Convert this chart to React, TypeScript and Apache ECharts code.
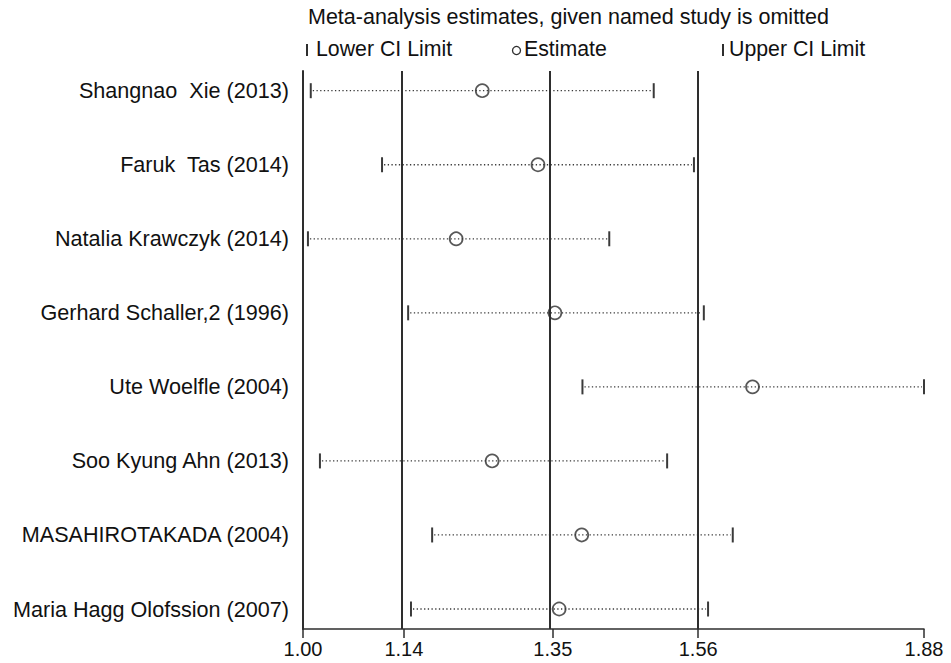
import React, { useEffect, useRef } from "react";
import * as echarts from "echarts";

const studies = [
  "Shangnao  Xie (2013)",
  "Faruk  Tas (2014)",
  "Natalia Krawczyk (2014)",
  "Gerhard Schaller,2 (1996)",
  "Ute Woelfle (2004)",
  "Soo Kyung Ahn (2013)",
  "MASAHIROTAKADA (2004)",
  "Maria Hagg Olofssion (2007)",
];
const lowerCI = [1.011, 1.112, 1.007, 1.149, 1.396, 1.024, 1.183, 1.153];
const estimate = [1.254, 1.333, 1.217, 1.357, 1.637, 1.268, 1.395, 1.363];
const upperCI = [1.497, 1.554, 1.434, 1.568, 1.88, 1.516, 1.609, 1.574];

// combined estimate lines (lower CI, estimate, upper CI) and axis tick values
const refLines = [1.143, 1.354, 1.56];
const xTicks = [1.0, 1.143, 1.354, 1.56, 1.88];
const rowIndex = studies.map((_, i) => i + 1);

const FONT = "'Liberation Sans', Arial, sans-serif";
const INK = "#111111";
const LINE = "#2e2e2e";

export default function App() {
  const ref = useRef<HTMLDivElement>(null);

  useEffect(() => {
    if (!ref.current) return;
    const chart = echarts.init(ref.current, undefined, { renderer: "svg" });

    const ciData = studies.map((_, i) => [lowerCI[i], upperCI[i], i + 1]);
    const estData = studies.map((_, i) => [estimate[i], i + 1]);

    chart.setOption({
      animation: false,
      backgroundColor: "#ffffff",
      grid: { left: 303, right: 27, top: 71, bottom: 34, containLabel: false },
      xAxis: {
        type: "value",
        min: 1.0,
        max: 1.88,
        axisLine: { show: true, lineStyle: { color: LINE, width: 1.5 } },
        axisTick: {
          show: true,
          customValues: xTicks,
          length: 9,
          lineStyle: { color: LINE, width: 1.5 },
        },
        axisLabel: {
          customValues: xTicks,
          formatter: (v: number) => v.toFixed(2),
          fontFamily: FONT,
          fontSize: 20,
          color: INK,
          margin: 10,
        },
        splitLine: { show: false },
      },
      yAxis: {
        type: "value",
        inverse: true,
        min: 0.734,
        max: 8.27,
        axisLine: { show: true, lineStyle: { color: LINE, width: 2 } },
        axisTick: { show: false },
        axisLabel: {
          customValues: rowIndex,
          formatter: (v: number) => studies[Math.round(v) - 1] ?? "",
          fontFamily: FONT,
          fontSize: 21.6,
          color: INK,
          margin: 14,
        },
        splitLine: { show: false },
      },
      graphic: [
        {
          type: "text",
          left: 308,
          top: 6,
          style: {
            text: "Meta-analysis estimates, given named study is omitted",
            font: `21.5px ${FONT}`,
            fill: INK,
          },
        },
        { type: "rect", shape: { x: 306, y: 44, width: 2, height: 12 }, style: { fill: LINE } },
        {
          type: "text",
          left: 316,
          top: 38,
          style: { text: "Lower CI Limit", font: `21.3px ${FONT}`, fill: INK },
        },
        {
          type: "circle",
          shape: { cx: 516.5, cy: 50.5, r: 4 },
          style: { fill: "none", stroke: LINE, lineWidth: 1.3 },
        },
        {
          type: "text",
          left: 524,
          top: 38,
          style: { text: "Estimate", font: `21.3px ${FONT}`, fill: INK },
        },
        { type: "rect", shape: { x: 722, y: 44, width: 2, height: 12 }, style: { fill: LINE } },
        {
          type: "text",
          left: 729,
          top: 38,
          style: { text: "Upper CI Limit", font: `21.3px ${FONT}`, fill: INK },
        },
      ],
      series: [
        {
          type: "custom",
          name: "CI",
          data: ciData,
          encode: { x: [0, 1], y: 2 },
          silent: true,
          renderItem: (params: any, api: any) => {
            const lo = api.coord([api.value(0), api.value(2)]);
            const hi = api.coord([api.value(1), api.value(2)]);
            const h = 15;
            return {
              type: "group",
              children: [
                {
                  type: "line",
                  shape: { x1: lo[0] + 2, y1: lo[1], x2: hi[0] - 2, y2: hi[1] },
                  style: { stroke: "#3a3a3a", lineWidth: 1.3, lineDash: [1.3, 2.4] },
                },
                {
                  type: "rect",
                  shape: { x: lo[0] - 1, y: lo[1] - h / 2, width: 2, height: h },
                  style: { fill: "#3a3a3a" },
                },
                {
                  type: "rect",
                  shape: { x: hi[0] - 1, y: hi[1] - h / 2, width: 2, height: h },
                  style: { fill: "#3a3a3a" },
                },
              ],
            };
          },
          z: 3,
        },
        {
          type: "scatter",
          name: "Estimate",
          data: estData,
          symbol: "circle",
          symbolSize: 13,
          itemStyle: { color: "rgba(255,255,255,0)", borderColor: LINE, borderWidth: 1.7 },
          silent: true,
          z: 4,
          markLine: {
            silent: true,
            symbol: "none",
            label: { show: false },
            lineStyle: { color: LINE, width: 2, type: "solid" },
            data: refLines.map((v) => ({ xAxis: v })),
          },
        },
      ],
    });

    return () => chart.dispose();
  }, []);

  return (
    <div
      ref={ref}
      style={{ position: "fixed", left: 0, top: 0, width: 951, height: 663, background: "#fff" }}
    />
  );
}
